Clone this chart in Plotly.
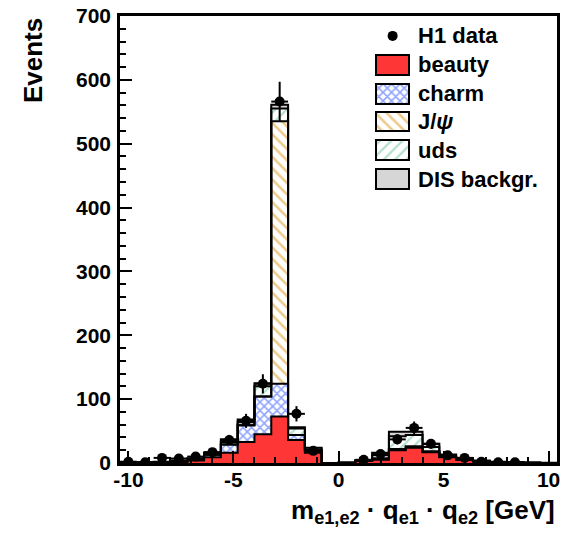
import numpy as np
import plotly.graph_objects as go

# ---- histogram content (bin width 0.8 GeV) ----
bin_centers = [-10.0, -9.2, -8.4, -7.6, -6.8, -6.0, -5.2, -4.4, -3.6, -2.8, -2.0, -1.2, -0.4,
               0.4, 1.2, 2.0, 2.8, 3.6, 4.4, 5.2, 6.0, 6.8, 7.6, 8.4, 9.2, 10.0]
bin_width = 0.8

beauty = [0.3, 0.4, 1.0, 2.0, 4.0, 9.0, 16, 33, 45, 73, 36, 16, 0,
          0.3, 3.0, 5, 20, 24, 17, 9, 5, 2.5, 1.2, 0.6, 0.3, 0.1]
charm = [0, 0, 0.2, 0.5, 1.5, 4.0, 13, 26, 59, 51, 8, 3, 0,
         0, 0.3, 2, 2, 2, 1, 0.5, 0.3, 0.1, 0, 0, 0, 0]
jpsi = [0, 0, 0, 0, 0, 0, 0, 0, 0, 411, 0, 0, 0,
        0, 0, 0, 0, 0, 0, 0, 0, 0, 0, 0, 0, 0]
uds = [0, 0.1, 0.2, 0.3, 0.5, 1.5, 4, 5, 16, 20, 10, 2, 0,
       0, 0.5, 5, 20, 18, 7, 2, 1, 0.4, 0.2, 0.1, 0, 0]
dis_bkg = [0.2, 0.3, 0.6, 1.0, 1.5, 2.0, 4, 4, 5, 6, 2, 3, 0,
           0.2, 1.0, 4, 7, 5, 5, 2, 1.5, 0.8, 0.5, 0.3, 0.2, 0.1]

data_counts = [2, 1, 8, 7, 10, 17, 36, 66, 124, 566, 77, 19, None,
               None, 5, 14, 37, 55, 30, 12, 8, 2, 1, 1, None, None]
data_errors = [2, 1.5, 4, 3.5, 4, 5.5, 8, 11, 15, 31, 12, 6, 0,
               0, 3, 5, 8, 10, 7.5, 4.5, 3.5, 2, 1.5, 1.5, 0, 0]

y_ticks = [0, 100, 200, 300, 400, 500, 600, 700]
x_ticks = [-10, -5, 0, 5, 10]

# ---- page geometry ----
W, H = 564, 536
L, R, T, B = 120, 560, 14, 463

FONT = "Liberation Sans"
BLACK = "#000000"
LW = 2.0


def fx(p):
    return (p - L) / (R - L)


def fy(p):
    return (B - p) / (B - T)


components = [
    ("beauty", beauty, dict(color="#ff3636")),
    ("charm", charm, dict(color="white",
                          pattern=dict(shape="x", fgcolor="#1f48ff", bgcolor="white",
                                       size=6, solidity=0.45))),
    ("J/ψ", jpsi, dict(color="white",
                       pattern=dict(shape="\\", fgcolor="#d99518", bgcolor="white",
                                    size=8, solidity=0.32))),
    ("uds", uds, dict(color="white",
                      pattern=dict(shape="/", fgcolor="#6cbf98", bgcolor="white",
                                   size=8, solidity=0.28))),
    ("DIS backgr.", dis_bkg, dict(color="#d6d6d6")),
]

centers = np.array(bin_centers)
edges = np.append(centers - bin_width / 2, centers[-1] + bin_width / 2)

fig = go.Figure()

# stacked filled bars
cum = np.zeros(len(centers))
levels = []
for name, vals, marker in components:
    v = np.array(vals, dtype=float)
    fig.add_trace(go.Bar(
        x=centers, y=v, base=cum.copy(), width=bin_width,
        marker=dict(line=dict(width=0), **marker),
        showlegend=False, name=name,
    ))
    cum = cum + v
    levels.append(cum.copy())

# black step outline of every stack level
for lev in levels:
    fig.add_trace(go.Scatter(
        x=edges, y=np.append(lev, lev[-1]), mode="lines",
        line=dict(color=BLACK, width=LW, shape="hv"),
        showlegend=False, hoverinfo="skip",
    ))

# data points
fig.add_trace(go.Scatter(
    x=centers, y=data_counts, mode="markers",
    marker=dict(color=BLACK, size=10, symbol="circle"),
    error_y=dict(type="data", array=data_errors, color=BLACK, thickness=LW, width=0),
    error_x=dict(type="constant", value=bin_width / 2, color=BLACK, thickness=LW, width=0),
    showlegend=False, name="H1 data",
))

# ---- legend drawn on a pixel-scaled overlay axis ----
row_y = [34, 63, 92, 120, 149, 178]
sw_x0, sw_x1, sw_h = 378, 411, 20
for (name, _, marker), yc in zip(components, row_y[1:]):
    fig.add_trace(go.Bar(
        x=[(sw_x0 + sw_x1) / 2], y=[sw_h], base=[yc - sw_h / 2], width=sw_x1 - sw_x0,
        xaxis="x2", yaxis="y2",
        marker=dict(line=dict(width=LW, color=BLACK), **marker),
        showlegend=False, hoverinfo="skip",
    ))
fig.add_trace(go.Scatter(
    x=[394.5], y=[row_y[0]], xaxis="x2", yaxis="y2", mode="markers",
    marker=dict(color=BLACK, size=10), showlegend=False, hoverinfo="skip",
))
legend_labels = ["H1 data", "beauty", "charm", "J/<i>ψ</i>", "uds", "DIS backgr."]
annotations = []
for lab, yc in zip(legend_labels, row_y):
    annotations.append(dict(
        text=lab, x=fx(418), y=fy(yc), xref="paper", yref="paper",
        xanchor="left", yanchor="middle", showarrow=False,
        font=dict(family=FONT, size=22, color=BLACK, weight="bold"),
    ))

# axis titles
annotations.append(dict(
    text="Events", x=fx(32), y=fy(14), xref="paper", yref="paper",
    xanchor="center", yanchor="top", textangle=-90, showarrow=False,
    font=dict(family=FONT, size=26, color=BLACK, weight="bold"),
))
annotations.append(dict(
    text="m<sub>e1,e2</sub> · q<sub>e1</sub> · q<sub>e2</sub> [GeV]",
    x=1.0, y=fy(512), xref="paper", yref="paper",
    xanchor="right", yanchor="middle", showarrow=False,
    font=dict(family=FONT, size=26, color=BLACK, weight="bold"),
))

tick_font = dict(family=FONT, size=21, color=BLACK, weight="bold")

fig.update_layout(
    width=W, height=H,
    margin=dict(l=L, r=W - R, t=T, b=H - B, pad=0),
    paper_bgcolor="white", plot_bgcolor="white",
    barmode="overlay", bargap=0,
    annotations=annotations,
    xaxis=dict(
        range=[-10.4, 10.4], tickvals=x_ticks, ticktext=[str(v) for v in x_ticks],
        ticks="inside", ticklen=12, tickwidth=LW, tickcolor=BLACK,
        minor=dict(dtick=1, ticks="inside", ticklen=6, tickwidth=LW, tickcolor=BLACK),
        showline=True, linecolor=BLACK, linewidth=2.5, mirror=True,
        showgrid=False, zeroline=False, tickfont=tick_font, ticklabelstandoff=-4,
    ),
    yaxis=dict(
        range=[0, 700], tickvals=y_ticks, ticktext=[str(v) for v in y_ticks],
        ticks="inside", ticklen=12, tickwidth=LW, tickcolor=BLACK,
        minor=dict(dtick=20, ticks="inside", ticklen=6, tickwidth=LW, tickcolor=BLACK),
        showline=True, linecolor=BLACK, linewidth=2.5, mirror=True,
        showgrid=False, zeroline=False, tickfont=tick_font, ticklabelstandoff=2,
    ),
    xaxis2=dict(range=[L, R], domain=[0, 1], anchor="y2", overlaying="x",
                visible=False, fixedrange=True),
    yaxis2=dict(range=[B, T], domain=[0, 1], anchor="x2", overlaying="y",
                visible=False, fixedrange=True),
)

fig.write_html("out.html")
